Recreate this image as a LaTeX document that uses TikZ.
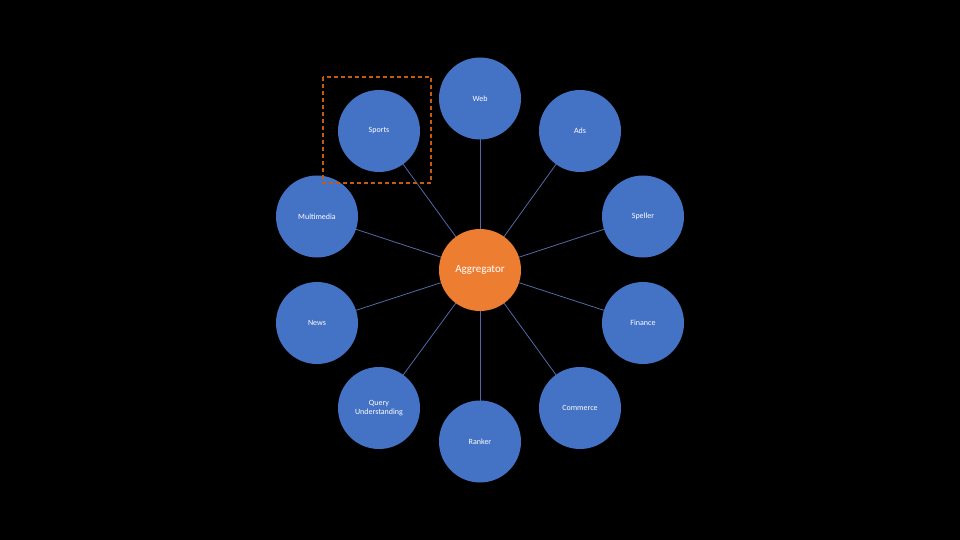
\documentclass[tikz,border=0pt]{standalone}
\usepackage{fontspec}
\setmainfont{Carlito}
\definecolor{cblue}{HTML}{4472C4}
\definecolor{corange}{HTML}{ED7D31}
\definecolor{cline}{HTML}{5468A8}
\definecolor{cdash}{HTML}{C55A11}
\begin{document}
\begin{tikzpicture}[x=1pt,y=-1pt,
  sat/.style={circle,fill=cblue,minimum size=82pt,inner sep=0pt,text=white,font=\fontsize{8}{9}\selectfont,align=center},
  hub/.style={circle,fill=corange,minimum size=82pt,inner sep=0pt,text=white,font=\fontsize{11}{13}\selectfont},
  link/.style={draw=cline,line width=0.8pt},
  hl/.style={draw=cdash,dashed,line width=1.6pt,dash pattern=on 4pt off 3pt}]
\fill[black] (0,0) rectangle (960,540);
\useasboundingbox (0,0) rectangle (960,540);
\coordinate (c) at (480,270);
\coordinate (pweb) at (480,98.5);
\coordinate (pads) at (580,131);
\coordinate (psports) at (379,131);
\coordinate (pmulti) at (317,216.5);
\coordinate (pspell) at (643,216.5);
\coordinate (pnews) at (317,323);
\coordinate (pfin) at (643,323);
\coordinate (pquery) at (379,408);
\coordinate (pcomm) at (580,408);
\coordinate (prank) at (480,441.5);
\foreach \p in {pweb,pads,psports,pmulti,pspell,pnews,pfin,pquery,pcomm,prank}
  \draw[link] (c) -- (\p);
\node[hub] (agg) at (c) {Aggregator};
\node[sat] (web) at (pweb) {Web};
\node[sat] (ads) at (pads) {Ads};
\node[sat] (sports) at (psports) {Sports};
\node[sat] (multi) at (pmulti) {Multimedia};
\node[sat] (spell) at (pspell) {Speller};
\node[sat] (news) at (pnews) {News};
\node[sat] (fin) at (pfin) {Finance};
\node[sat] (query) at (pquery) {Query\\Understanding};
\node[sat] (comm) at (pcomm) {Commerce};
\node[sat] (rank) at (prank) {Ranker};
\coordinate (b1) at (323,77);
\coordinate (b2) at (431,183);
\draw[hl] (b1) rectangle (b2);
\end{tikzpicture}
\end{document}
